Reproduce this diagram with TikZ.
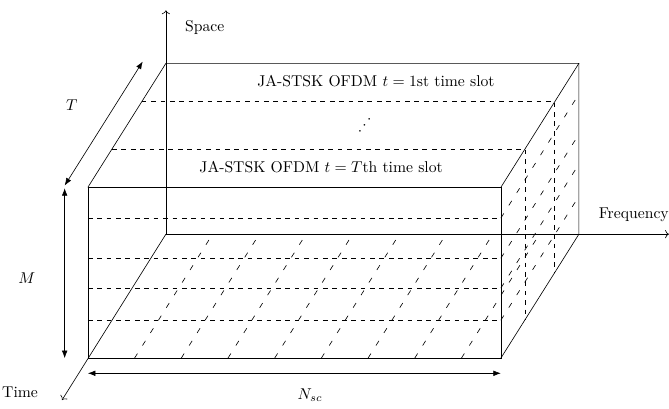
\documentclass[tikz,border=0pt]{standalone}
\usepackage{amsmath}
\usepackage{tikz}
\usetikzlibrary{arrows.meta, positioning, calc}
\tikzset{
    boxedge/.style={draw=black},
    slotline/.style={dashed, draw=black},
    depthline/.style={dash pattern=on 3.5pt off 6pt, draw=black},
    dimarrow/.style={{Latex}-{Latex}, draw=black},
    axisarrow/.style={->, draw=black},
    lbl/.style={inner sep=1pt, align=center},
}

\begin{document}
\begin{tikzpicture}
    \useasboundingbox (-1.97,-1.14) rectangle (13.03,8.03);
    % corners of the cuboid
    \coordinate (fbl) at (0,0);
    \coordinate (fbr) at (9.26,0);
    \coordinate (ftr) at (9.26,3.83);
    \coordinate (ftl) at (0,3.83);
    \coordinate (bbl) at (1.75,2.78);
    \coordinate (bbr) at (11.01,2.78);
    \coordinate (btr) at (11.01,6.61);
    \coordinate (btl) at (1.75,6.61);
    % axes
    \coordinate (spaceend) at (1.75,7.80);
    \coordinate (freqend) at (13.03,2.78);
    \coordinate (timeend) at (-0.58,-0.94);
    \draw[axisarrow] (bbl) -- (spaceend);
    \draw[axisarrow] (bbl) -- (freqend);
    \draw[axisarrow] (bbl) -- (timeend);
    \node[lbl] (space) at (2.62,7.42) {Space};
    \node[lbl] (freq) at (12.24,3.22) {Frequency};
    \node[lbl] (time) at (-1.52,-0.76) {Time};
    % subcarrier grid on the bottom
    \foreach \k in {1,...,8} {
        \draw[depthline] ($(fbl)+(1.047*\k,0)$) -- ($(bbl)+(1.047*\k,0)$);
    }
    % antenna layers on front and right faces
    \foreach \h in {0.85,1.57,2.24,3.14} {
        \draw[slotline] ($(fbl)+(0,\h)$) -- ($(fbr)+(0,\h)$);
        \draw[depthline] ($(fbr)+(0,\h)$) -- ($(bbr)+(0,\h)$);
    }
    % time slots on top and right faces
    \foreach \f in {0.31,0.69} {
        \draw[slotline] ($(ftl)!\f!(btl)$) -- ($(ftr)!\f!(btr)$) -- ($(fbr)!\f!(bbr)$);
    }
    % cuboid
    \draw[boxedge] (fbl) rectangle (ftr);
    \draw[boxedge] (ftl) -- (btl) -- (btr) -- (ftr);
    \draw[boxedge] (btr) -- (bbr) -- (fbr);
    % slot labels
    \node[lbl] (slot1) at (6.46,6.21) {JA-STSK OFDM $t=1$st time slot};
    \node[lbl, rotate=90] (slotdots) at (6.10,5.22) {$\ddots$};
    \node[lbl] (slotT) at (5.23,4.28) {JA-STSK OFDM $t=T$th time slot};
    % dimensions
    \coordinate (ta) at (-0.52,3.87);
    \coordinate (tb) at (1.23,6.65);
    \coordinate (ma) at (-0.52,0);
    \coordinate (mb) at (-0.52,3.81);
    \coordinate (na) at (0,-0.34);
    \coordinate (nb) at (9.26,-0.34);
    \draw[dimarrow] (ta) -- (tb);
    \draw[dimarrow] (ma) -- (mb);
    \draw[dimarrow] (na) -- (nb);
    \node[lbl] (tlbl) at (-0.36,5.67) {$T$};
    \node[lbl] (mlbl) at (-1.37,1.79) {$M$};
    \node[lbl] (nlbl) at (4.98,-0.83) {$N_{sc}$};
\end{tikzpicture}
\end{document}
